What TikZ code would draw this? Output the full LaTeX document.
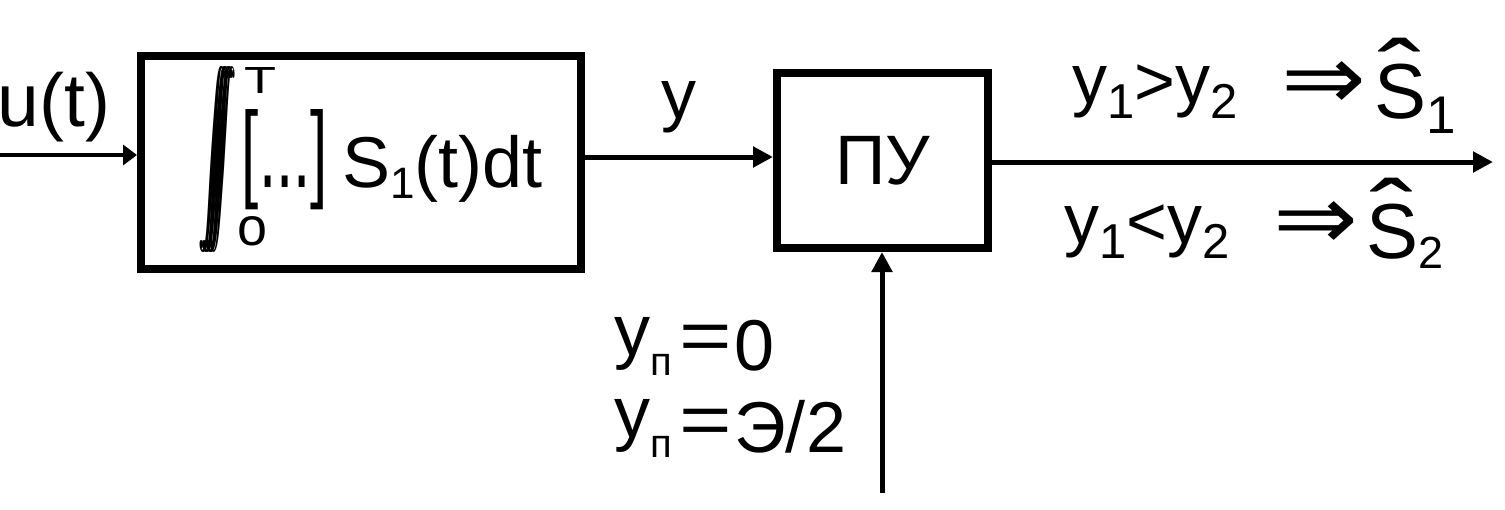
\documentclass[tikz,border=0pt]{standalone}
\usepackage{fontspec}
\setmainfont{Liberation Sans}
\newfontfamily\dejavu{DejaVu Sans}
\usetikzlibrary{arrows.meta}
\newcommand\fs[1]{\fontsize{#1}{#1}\selectfont}
\newcommand\ry[1][15pt]{\raisebox{#1}{y}}
\newcommand\lsub[3]{\raisebox{-#1}{\fs{#2}#3}}
\newcommand\hatS{\rlap{\makebox[52pt][c]{\raisebox{9pt}{\scalebox{1.85}[1.4]{\char"02C6}}}}{\fs{78}S}}
\newcommand\impl{\raisebox{9pt}{\scalebox{1.45}[1.3]{\dejavu ⇒}}}
\newcommand\intc{\rlap{$\displaystyle\int$}\kern0.5pt}
\newcommand\bigint{\intc\intc\intc\intc\intc\intc\intc\intc$\displaystyle\int$}
\begin{document}
\begin{tikzpicture}[x=1pt,y=-1pt,
  blk/.style={draw, line width=8pt, inner sep=0pt, font=\fs{70}},
  txt/.style={inner sep=0pt, outer sep=0pt, font=\fs{70}},
  conn/.style={line width=5pt, -{Triangle[length=20pt,width=20pt]}},
  conin/.style={line width=4pt, -{Triangle[length=14pt,width=20pt]}}]
\useasboundingbox (0,0) rectangle (1505,509);
% blocks
\node[blk, minimum width=440, minimum height=213] (b1) at (361,162.5) {};
\node[blk, minimum width=211, minimum height=175] (b2) at (882.5,160.5) {ПУ};
% contents of block 1
\node[txt] (int) at (217.5,159.5) {\resizebox{38pt}{145pt}{\bigint}};
\node[txt] (tlim) at (260,80) {\resizebox{32pt}{26pt}{T}};
\node[txt] (olim) at (252.5,231) {\resizebox{30pt}{29pt}{o}};
\node[txt] (brk) at (285,159.5) {\resizebox{86pt}{78pt}{[...]}};
\node[txt, anchor=base west, font=\fs{72}] (s1t) at (342,187) {S\lsub{11pt}{44}{1}(t)dt};
% labels
\node[txt, anchor=base west, font=\fs{75}] (ut) at (-2,126) {u(t)};
\node[txt, anchor=base west] (ylab) at (661,118) {y};
\node[txt, anchor=base west] (r1) at (1072,118)
  {\ry\lsub{0pt}{49}{1}\raisebox{13pt}{>}\ry\lsub{0pt}{49}{2}\hspace{44pt}\impl\hspace{8pt}\hatS\lsub{15pt}{53}{1}};
\node[txt, anchor=base west] (r2) at (1064,258)
  {\ry\lsub{0pt}{49}{1}\raisebox{13pt}{<}\ry\lsub{0pt}{49}{2}\hspace{44pt}\impl\hspace{8pt}\hatS\lsub{10pt}{45}{2}};
\node[txt, anchor=base west, font=\fs{72}] (yp0) at (614,370)
  {\ry\lsub{5pt}{40}{п}\hspace{8pt}\raisebox{10pt}{\scalebox{1.25}[1]{=}}\hspace{2pt}0};
\node[txt, anchor=base west, font=\fs{72}] (ypE) at (614,452)
  {\ry\lsub{5pt}{40}{п}\hspace{8pt}\raisebox{8pt}{\scalebox{1.25}[1]{=}}\hspace{2pt}Э/2};
% connectors
\coordinate (inbeg) at (0,155);
\coordinate (ymid) at (680,157);
\coordinate (outend) at (1493,162);
\coordinate (vbeg) at (882,493);
\draw[conin] (inbeg) -- (b1.west |- inbeg);
\draw[conn] (b1.east |- ymid) -- (b2.west |- ymid);
\draw[conn] (b2.east |- outend) -- (outend);
\draw[conn] (vbeg) -- (vbeg |- b2.south);
\end{tikzpicture}
\end{document}
